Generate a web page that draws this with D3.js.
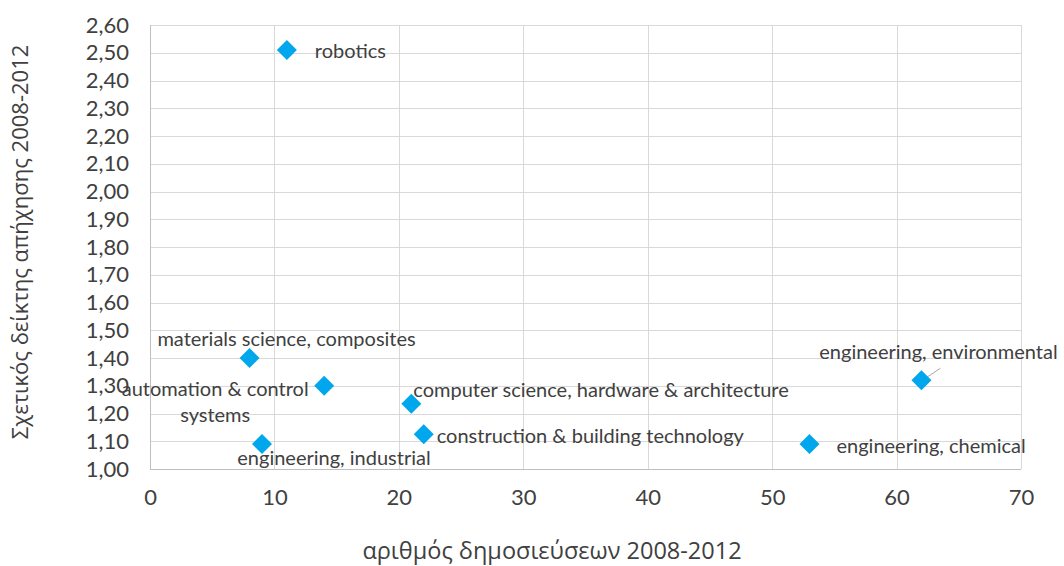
<!DOCTYPE html>
<html>
<head>
<meta charset="utf-8">
<script src="https://cdn.jsdelivr.net/npm/d3@7"></script>
<style>
body{margin:0;background:#fff;}
text{font-family:Lato,"Open Sans",sans-serif;}
</style>
</head>
<body>
<svg id="display" width="1064" height="566"></svg>
<script>
// data
const fields=["robotics","materials science, composites","automation & control systems","computer science, hardware & architecture","construction & building technology","engineering, industrial","engineering, chemical","engineering, environmental"];
const publications=[11,8,14,21,22,9,53,62];
const impact=[2.51,1.40,1.30,1.235,1.125,1.09,1.09,1.32];
const y_ticks=[1.0,1.1,1.2,1.3,1.4,1.5,1.6,1.7,1.8,1.9,2.0,2.1,2.2,2.3,2.4,2.5,2.6];
const x_ticks=[0,10,20,30,40,50,60,70];

// label placement (px offsets from the marker), anchor, lines
const label_pos=[
    {dx:28,dy:0,anchor:"start",lines:["robotics"]},
    {dx:37,dy:-20,anchor:"middle",lines:["materials science, composites"]},
    {dx:-109,dy:15,anchor:"middle",lines:["automation & control","systems"]},
    {dx:2,dy:-15,anchor:"start",lines:["computer science, hardware & architecture"]},
    {dx:13,dy:1,anchor:"start",lines:["construction & building technology"]},
    {dx:72,dy:13,anchor:"middle",lines:["engineering, industrial"]},
    {dx:27,dy:1,anchor:"start",lines:["engineering, chemical"]},
    {dx:17,dy:-29,anchor:"middle",lines:["engineering, environmental"]}
];

const display=d3.select("#display");
const plot_left=150, plot_right=1021, plot_top=25, plot_bottom=469;
const text_color="#404040";
const grid_color="#d9d9d9";

const x=d3.scaleLinear().domain([0,70]).range([plot_left,plot_right]);
const y=d3.scaleLinear().domain([1.0,2.6]).range([plot_bottom,plot_top]);

// gridlines
display.append("g").selectAll("line").data(y_ticks).join("line")
    .attr("x1",plot_left).attr("x2",plot_right)
    .attr("y1",d=>Math.round(y(d))+0.5).attr("y2",d=>Math.round(y(d))+0.5)
    .attr("stroke",grid_color).attr("stroke-width",1);
display.append("g").selectAll("line").data(x_ticks).join("line")
    .attr("y1",plot_top).attr("y2",plot_bottom)
    .attr("x1",d=>Math.round(x(d))+0.5).attr("x2",d=>Math.round(x(d))+0.5)
    .attr("stroke",grid_color).attr("stroke-width",1);

// axes
const fmt=d=>d3.format(".2f")(d).replace(".",",");
const y_axis=display.append("g")
    .attr("transform","translate("+(plot_left-4)+",0)")
    .call(d3.axisLeft(y).tickValues(y_ticks).tickFormat(fmt).tickSize(0).tickPadding(17));
y_axis.select(".domain").remove();
y_axis.selectAll("text").style("font-size","22px").style("fill",text_color).style("font-family","Lato");

const x_axis=display.append("g")
    .attr("transform","translate(0,"+plot_bottom+")")
    .call(d3.axisBottom(x).tickValues(x_ticks).tickSize(0).tickPadding(20));
x_axis.select(".domain").remove();
x_axis.selectAll("text").style("font-size","22px").style("fill",text_color).style("font-family","Lato");

// axis lines
display.append("line")
    .attr("x1",plot_left+0.5).attr("x2",plot_left+0.5).attr("y1",plot_top).attr("y2",plot_bottom)
    .attr("stroke","#bfbfbf");
display.append("line")
    .attr("x1",plot_left).attr("x2",plot_right).attr("y1",plot_bottom+0.5).attr("y2",plot_bottom+0.5)
    .attr("stroke","#bfbfbf");

// axis titles
display.append("text")
    .attr("x",552).attr("y",559)
    .style("font-size","23.5px").style("fill",text_color)
    .style("font-family","'Open Sans'")
    .style("text-anchor","middle")
    .text("αριθμός δημοσιεύσεων 2008-2012");

display.append("text")
    .attr("transform","translate(28,242) rotate(-90)")
    .style("font-size","22px").style("fill",text_color)
    .style("font-family","'Open Sans'")
    .style("text-anchor","middle")
    .text("Σχετικός δείκτης απήχησης 2008-2012");

// leader line for engineering, environmental
display.append("line")
    .attr("x1",x(publications[7])+1).attr("y1",y(impact[7]))
    .attr("x2",x(publications[7])+19).attr("y2",y(impact[7])-12)
    .attr("stroke","#a6a6a6").attr("stroke-width",1);

// markers
const diamond=d3.symbol().type(d3.symbolSquare).size(200);
let count=0;
for (const f of fields){
    const cx=x(publications[count]);
    const cy=y(impact[count]);
    display.append("path")
        .attr("d",diamond())
        .attr("transform","translate("+cx+","+cy+") rotate(45)")
        .attr("fill","#00a7ec");

    const lp=label_pos[count];
    const n=lp.lines.length;
    const t=display.append("text")
        .attr("x",cx+lp.dx)
        .attr("y",cy+lp.dy)
        .style("font-size","20px")
        .style("fill",text_color)
        .style("text-anchor",lp.anchor)
        .style("dominant-baseline","central");
    lp.lines.forEach((line,i)=>{
        t.append("tspan")
            .attr("x",cx+lp.dx)
            .attr("dy",i===0?(-(n-1)*13):26)
            .text(line);
    });
    count+=1;
}
</script>
</body>
</html>
